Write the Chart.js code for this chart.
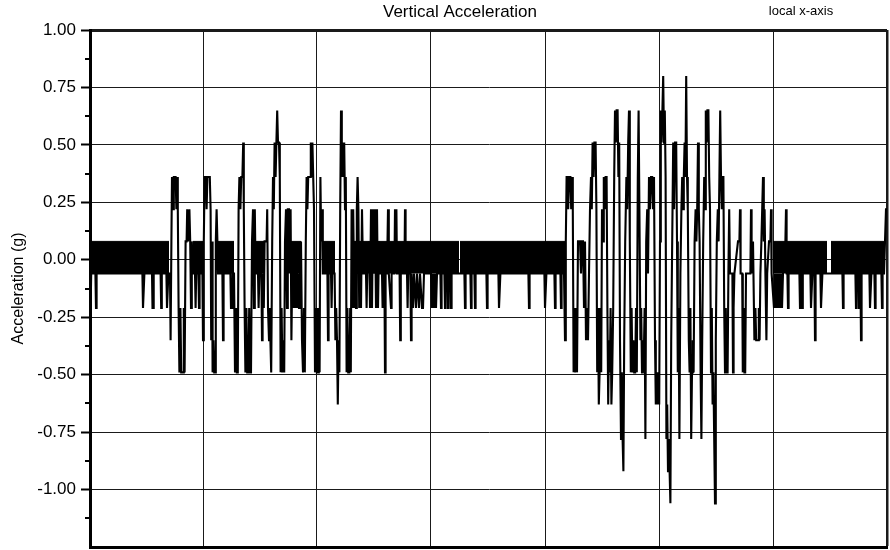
<!DOCTYPE html>
<html>
<head>
<meta charset="utf-8">
<script src="https://cdn.jsdelivr.net/npm/chart.js@4.4.1/dist/chart.umd.min.js"></script>
<style>
  html, body { margin: 0; padding: 0; background: #fff; }
  #wrap { width: 890px; height: 550px; }
</style>
</head>
<body>
<div id="wrap"><canvas id="chart" width="890" height="550"></canvas></div>
<script>
const FONT = '"Liberation Sans", Arial, Helvetica, sans-serif';

const chartTitle = 'Vertical Acceleration';
const cornerNote = 'local x-axis';
const yTitle = 'Acceleration (g)';

// y axis range and ticks
const yMin = -1.25, yMax = 1.0, yStep = 0.25;
// unlabelled time axis, vertical grid positions
const xMax = 797;
const xGrid = [0, 113.5, 226.5, 340.5, 455.5, 569.5, 683, 797];

// quiet stretches where the signal toggles between two levels (solid band)
const bandHigh = 0.08, bandLow = -0.06;
const bandFrom = [0, 103, 127, 165, 201, 232, 262, 273, 370, 683, 741];
const bandTo   = [79, 113, 144, 174, 211, 245, 271, 369, 475, 737, 794];

// sampled trace [time, g]
const trace = [
  [0,-0.06],[0.6,-0.21],[1.2,-0.06],[5.4,-0.06],[6,-0.21],[6.6,-0.06],
  [52.4,-0.06],[53,-0.21],[53.8,-0.21],[54.4,-0.06],
  [62,-0.06],[62.5,-0.21],[63.2,-0.21],[63.7,-0.06],
  [70.6,-0.06],[71.2,-0.21],[71.8,-0.06],
  [76.4,-0.06],[77,-0.21],[77.8,-0.21],[78.4,-0.06],
  [80,-0.06],[80.6,-0.35],[81.4,0.08],[82,0.36],[83,0.22],[83.8,0.36],[85.6,0.36],[86.4,0.22],[87.2,0.36],[87.8,0.22],
  [88.6,-0.21],[89.4,-0.49],[90.4,-0.21],[91.2,-0.49],[93,-0.49],[93.8,-0.21],[94.6,-0.49],[95.6,0.08],
  [96.6,0.08],[97.2,0.22],[98,0.08],[99.4,0.22],[100.2,0.08],[101,-0.21],[101.8,0.08],[103,-0.06],
  [105,-0.06],[105.6,-0.21],[106.2,-0.06],[108.4,-0.06],[109,-0.21],[109.6,-0.06],
  [112.4,-0.06],[113,-0.35],[113.8,0.08],[114.6,0.36],[116,0.36],[116.6,0.22],[117.4,0.36],[119.8,0.36],[120.6,0.22],
  [121.2,-0.35],[122,0.08],[122.6,-0.49],[123.4,-0.35],[124.2,-0.49],[125,-0.49],[125.8,0.08],[126.6,0.22],[127.4,0.08],
  [128,-0.06],[132.4,-0.06],[133,-0.35],[133.6,-0.06],[140.4,-0.06],[141,-0.21],[142,-0.21],[142.6,-0.06],[144,-0.06],
  [145,-0.49],[146,-0.21],[146.8,-0.49],[147.8,-0.49],[148.6,0.22],[149.4,0.36],[150.4,0.22],[151.2,0.36],[152.4,0.36],
  [153.2,0.51],[153.8,0.22],[154.6,-0.21],[155.4,-0.49],[156.4,-0.21],[157.2,-0.49],[158.4,-0.49],[159.2,-0.21],[160,-0.49],[161,-0.49],[162,0.08],
  [163,0.22],[164,-0.21],[164.8,0.22],[165.6,-0.06],[168,-0.06],[168.6,-0.21],[169.4,-0.06],[171.4,-0.06],[172,-0.35],[172.6,-0.06],
  [173.8,-0.21],[174.6,0.08],[176.6,0.08],[177.2,0.22],[178,-0.21],
  [179,-0.35],[179.8,-0.21],[180.4,-0.35],[181.2,-0.49],[182.2,0.08],[183,0.36],[183.8,0.22],[184.6,0.51],[185.6,0.36],
  [186.4,0.51],[187.2,0.65],[188,0.51],[189,0.51],[189.8,0.36],
  [190.6,-0.49],[191.6,-0.21],[192.4,-0.49],[193.4,-0.35],[194.2,-0.49],[195,0.08],[196,0.22],[197,-0.21],[197.8,0.22],
  [199,0.22],[199.8,-0.06],[200.6,0.22],[201.4,-0.35],[202.2,-0.06],
  [203,-0.06],[203.6,-0.21],[204.2,-0.06],[205,-0.06],[205.6,-0.21],[206.2,-0.06],[207,-0.06],[207.6,-0.21],[208.2,-0.06],
  [208.4,-0.06],[209,-0.21],[209.6,-0.06],[211,0.08],
  [212,-0.35],[213,-0.49],[214,-0.21],[214.8,-0.49],[215.8,0.08],[216.6,0.36],[217.4,0.22],[218.2,0.36],[220,0.36],
  [220.8,0.51],[221.6,0.36],[222.4,0.51],[223.2,0.36],[224,0.22],
  [225,-0.49],[226,-0.21],[226.8,-0.49],[228,-0.49],[228.8,-0.21],[229.6,-0.49],[230.4,0.36],[231.2,0.08],
  [232,0.22],[232.8,-0.06],[237.4,-0.06],[238,-0.35],[238.6,-0.06],[241,-0.06],[241.6,-0.21],[242.2,-0.06],[244.6,-0.06],
  [245.4,-0.35],[246.2,-0.21],[247,-0.35],[247.8,-0.63],[248.6,-0.35],[249.4,-0.49],[250.2,0.22],[251,0.65],[251.8,0.36],
  [252.6,0.51],[253.4,0.36],[254.2,0.51],[255,0.22],[255.8,0.36],
  [256.6,-0.49],[257.4,-0.21],[258.2,-0.49],[259.4,-0.49],[260.2,-0.21],[260.8,-0.49],[261.6,0.22],[262.4,-0.21],
  [263.2,0.22],[264.4,-0.21],[265.2,0.08],[266,-0.21],[266.8,0.22],[267.6,0.36],[268.4,0.22],[269.2,-0.21],[270,0.08],[271,-0.21],
  [272,0.22],[273,-0.06],[276,-0.06],[276.6,-0.21],[277.2,-0.06],[279,0.08],[280,-0.21],[281,0.22],[282,-0.21],[283,0.22],
  [284,-0.06],[285,0.22],[286,-0.21],[287,0.22],[288,-0.21],[289,0.08],
  [290,-0.06],[292,-0.06],[292.6,-0.21],[293.2,-0.06],[294.4,-0.06],[295,-0.49],[295.6,-0.06],[297,-0.06],[298,0.22],
  [298.8,-0.06],[301,-0.21],[301.6,-0.06],[304.4,-0.06],[305,0.22],[305.6,-0.06],[306.4,0.22],[307,-0.06],[309.6,-0.06],
  [310.2,-0.35],[310.8,-0.06],[314.4,-0.06],[315,0.22],[315.6,-0.06],[317,-0.06],[317.6,-0.21],[318.2,-0.06],
  [320.4,-0.06],[321,-0.35],[321.6,-0.06],[323,-0.21],[324,-0.06],[326,-0.21],[327,-0.06],[329,-0.21],[330,-0.06],
  [332,-0.21],[333,-0.21],[334,-0.06],
  [341,-0.06],[342,-0.21],[343,-0.06],[344,-0.21],[345,-0.06],[346,-0.21],[347,-0.06],
  [350.4,-0.06],[351,-0.21],[351.6,-0.06],[354.4,-0.06],[355,-0.21],[355.6,-0.06],[357.4,-0.06],[358,-0.21],[358.6,-0.06],
  [360.4,-0.06],[361,-0.21],[361.6,-0.06],
  [374.4,-0.06],[375,-0.21],[375.6,-0.06],[380.4,-0.06],[381,-0.21],[381.6,-0.06],[384.4,-0.06],[385,-0.21],[385.6,-0.06],
  [396.4,-0.06],[397,-0.21],[397.6,-0.06],[408.4,-0.06],[409,-0.21],[409.8,-0.21],[410.4,-0.06],
  [438.4,-0.06],[439,-0.21],[439.6,-0.06],[454.4,-0.06],[455,-0.21],[455.8,-0.21],[456.4,-0.06],
  [464.4,-0.06],[465,-0.21],[465.6,-0.06],[470.4,-0.06],[471,-0.21],[471.6,-0.06],[474,-0.06],
  [475,-0.35],[475.8,0.08],[476.6,0.36],[477.6,0.36],[478.2,0.22],[479,0.36],[480.4,0.36],[481.2,0.22],[482,0.36],[482.8,0.22],
  [483.6,-0.49],[484.4,-0.21],[485.2,-0.49],[486.2,-0.21],[487,-0.49],[488,0.08],[490,0.08],[491,-0.06],[492,0.08],[493,0.08],
  [494,-0.21],[495,0.08],[496,-0.35],[497,-0.21],[498,-0.35],[499,-0.06],[500,0.22],[501,0.36],[501.8,0.22],[502.6,0.51],
  [503.6,0.36],[504.4,0.51],[505.6,0.51],[506.4,0.22],
  [507.2,-0.49],[508,-0.21],[508.8,-0.63],[509.6,-0.49],[510.4,-0.21],[511.2,-0.49],[512,0.22],[513,0.08],[513.8,0.36],
  [514.8,0.22],[515.6,0.36],[516.6,0.36],[517.4,-0.21],
  [518.2,-0.63],[519,-0.35],[519.8,-0.49],[520.6,-0.21],[521.4,-0.63],[522.2,-0.49],[523.2,-0.21],[524.2,0.36],[525,0.65],
  [525.8,0.51],[526.6,0.65],[527.6,0.65],[528.4,0.36],[529.2,0.51],
  [530,-0.35],[531,-0.78],[531.8,-0.49],[532.6,-0.78],[533.4,-0.92],[534.2,-0.35],[535.2,0.08],[536.4,0.36],[537.2,0.22],
  [538.2,0.51],[539,0.65],[539.8,0.08],
  [540.8,-0.49],[541.6,-0.21],[542.4,-0.49],[543.4,-0.35],[544.2,-0.49],[545.2,-0.49],[546,-0.21],[546.8,-0.49],
  [547.8,0.36],[548.6,0.65],[549.4,0.22],
  [550.4,-0.35],[551.2,-0.21],[552,-0.49],[552.8,-0.35],[553.6,-0.49],[554.6,-0.21],[555.4,-0.78],[556.2,0.08],[557.2,0.22],
  [558,-0.06],[559,0.36],[560,0.22],[561,0.36],[562.2,0.36],[563,0.22],[564,0.36],
  [565,-0.35],[565.8,-0.63],[566.6,-0.49],[567.4,-0.63],[568.4,-0.49],[569.2,-0.63],[570,0.08],[570.8,0.65],[571.6,0.51],
  [572.4,0.65],[573.2,0.80],[574,0.51],[574.8,0.65],[575.6,0.36],
  [576.4,-0.78],[577.2,-0.63],[578,-0.92],[578.8,-0.78],[579.6,-0.92],[580.4,-1.06],[581.2,-0.35],[582.2,0.08],[583.2,0.51],
  [584,0.22],[585,0.51],[586.2,0.51],[587,0.08],
  [587.8,-0.49],[588.6,-0.21],[589.4,-0.78],[590.4,-0.06],[591.4,0.22],[592.2,0.36],[593,0.22],[593.8,0.36],[594.6,0.51],
  [595.4,0.36],[596.2,0.80],[597,0.36],[597.8,0.22],
  [598.8,-0.35],[599.6,-0.49],[600.4,-0.21],[601.2,-0.78],[602,-0.49],[602.8,-0.35],[603.6,-0.49],[604.6,0.08],[605.6,0.22],
  [606.4,0.08],[607.2,0.22],[608,0.51],[608.8,0.22],[609.6,0.08],
  [610.6,-0.49],[611.4,-0.78],[612.2,-0.35],[613.2,0.08],[614.2,0.36],[615,0.22],[615.8,0.65],[616.6,0.51],[617.4,0.65],
  [618.4,0.65],[619.2,0.36],[620,0.22],
  [621,-0.49],[621.8,-0.21],[622.6,-0.63],[623.4,-0.49],[624.2,-0.78],[625,-1.06],[625.8,-0.35],[626.8,0.08],[627.8,0.22],
  [628.6,0.08],[629.4,0.36],[630.2,0.65],[631,0.36],[631.8,0.22],[632.6,0.36],[633.4,0.36],
  [634.2,-0.21],[635,-0.49],[635.8,-0.21],[636.6,-0.49],[637.6,-0.49],[638.4,-0.06],[639.2,0.22],[640,-0.06],
  [642.4,-0.06],[643,-0.49],[643.6,-0.21],[644.4,-0.06],[648,0.08],[649.4,0.08],[650,0.22],[650.6,-0.06],[652.2,-0.06],
  [652.8,-0.49],[653.6,-0.21],[654.4,-0.49],[655.2,-0.49],[656,-0.06],
  [660.4,-0.06],[661,0.22],[661.6,-0.06],[663,0.08],[664.4,-0.35],[665.4,-0.21],[666.2,-0.35],[668,-0.35],[668.8,-0.21],
  [669.6,-0.35],[670.4,-0.06],
  [671.4,0.08],[672.2,0.22],[673,0.36],[673.8,0.08],[674.6,0.22],[675.4,-0.06],[676.4,-0.35],[677.2,-0.06],[679,0.08],
  [680.4,0.08],[681,0.22],[681.6,-0.06],
  [684,-0.21],[685,-0.06],[686,-0.21],[687,-0.06],[688,-0.21],[689,-0.06],[690,-0.21],[691,-0.06],[692,-0.21],[693,-0.06],
  [695.4,0.08],[696,0.22],[696.6,-0.06],
  [697.4,-0.06],[698,-0.21],[698.6,-0.06],[709.4,-0.06],[710,-0.21],[710.6,-0.06],[711.6,-0.06],[712.2,-0.21],[712.8,-0.06],
  [720.4,-0.06],[721,-0.21],[721.8,-0.21],[722.4,-0.06],
  [724.4,-0.06],[725,-0.35],[725.6,-0.06],[730.4,-0.06],[731,-0.21],[731.8,-0.21],[732.4,-0.06],[752.4,-0.06],[753,-0.21],[753.6,-0.06],
  [765.4,-0.06],[766,-0.21],[766.6,-0.06],[768.4,-0.06],[769,-0.21],[769.6,-0.06],[770.4,-0.06],[771,-0.35],[771.6,-0.06],
  [779.4,-0.06],[780,-0.21],[780.8,-0.21],[781.4,-0.06],[784.4,-0.06],[785,-0.21],[785.6,-0.06],[791.4,-0.06],[792,-0.21],[792.6,-0.06],
  [794,-0.06],[795,0.08],[796,0.22],[797,0.22]
];

// ---- build library tables ----
const bandPoints = [];
bandFrom.forEach((s, i) => {
  if (i > 0) bandPoints.push({ x: (bandTo[i - 1] + s) / 2, y: null });
  bandPoints.push({ x: s, y: bandHigh }, { x: bandTo[i], y: bandHigh });
});
const tracePoints = trace.map(([t, g]) => ({ x: t, y: g }));

const isVal = (a, b) => Math.abs(a - b) < 1e-6;

// title texts + minor y ticks
const frameDecor = {
  id: 'frameDecor',
  afterDraw(chart) {
    const { ctx, chartArea } = chart;
    const ys = chart.scales.y;
    ctx.save();
    ctx.fillStyle = '#000';
    ctx.textAlign = 'center';
    ctx.textBaseline = 'middle';
    ctx.font = '17px ' + FONT;
    ctx.fillText(chartTitle, 460, 12);
    ctx.font = '13px ' + FONT;
    ctx.fillText(cornerNote, 801, 11);

    ctx.strokeStyle = '#000';
    ctx.lineWidth = 2;
    for (let i = 0; i < ys.ticks.length - 1; i++) {
      const v = (ys.ticks[i].value + ys.ticks[i + 1].value) / 2;
      const py = Math.round(ys.getPixelForValue(v));
      ctx.beginPath();
      ctx.moveTo(chartArea.left - 5, py);
      ctx.lineTo(chartArea.left, py);
      ctx.stroke();
    }
    ctx.restore();
  }
};

new Chart(document.getElementById('chart'), {
  type: 'line',
  data: {
    datasets: [
      {
        data: bandPoints,
        borderColor: '#000',
        borderWidth: 1,
        backgroundColor: '#000',
        fill: { value: bandLow },
        pointRadius: 0,
        spanGaps: false
      },
      {
        data: tracePoints,
        borderColor: '#000',
        borderWidth: 2.1,
        pointRadius: 0,
        fill: false,
        tension: 0
      }
    ]
  },
  options: {
    responsive: false,
    animation: false,
    layout: { padding: { top: 30, right: 3, bottom: 3, left: 0 } },
    plugins: {
      legend: { display: false },
      tooltip: { enabled: false },
      title: { display: false }
    },
    scales: {
      x: {
        type: 'linear',
        min: 0,
        max: xMax,
        afterBuildTicks: s => { s.ticks = xGrid.map(v => ({ value: v })); },
        afterFit: s => { s.height = 0; s.paddingLeft = 0; s.paddingRight = 0; },
        ticks: { display: false },
        grid: {
          color: '#1a1a1a',
          lineWidth: c => (c.index === xGrid.length - 1 ? 2.5 : 1),
          drawTicks: false
        },
        border: { display: true, width: 3, color: '#000' }
      },
      y: {
        min: yMin,
        max: yMax,
        afterFit: s => { s.width = 90; s.paddingTop = 0; s.paddingBottom = 0; },
        ticks: {
          stepSize: yStep,
          padding: 5,
          color: '#000',
          font: { family: FONT, size: 17 },
          callback: v => (isVal(v, yMin) ? '' : v.toFixed(2))
        },
        grid: {
          color: '#1a1a1a',
          lineWidth: c => (c.tick && (isVal(c.tick.value, yMax) || isVal(c.tick.value, yMin)) ? 3 : 1),
          tickLength: 9,
          tickWidth: 2,
          tickColor: c => (c.tick && isVal(c.tick.value, yMin) ? 'rgba(0,0,0,0)' : '#000')
        },
        border: { width: 3, color: '#000' },
        title: {
          display: true,
          text: yTitle,
          color: '#000',
          font: { family: FONT, size: 16 },
          padding: { top: 9, bottom: 0 }
        }
      }
    }
  },
  plugins: [frameDecor]
});
</script>
</body>
</html>
